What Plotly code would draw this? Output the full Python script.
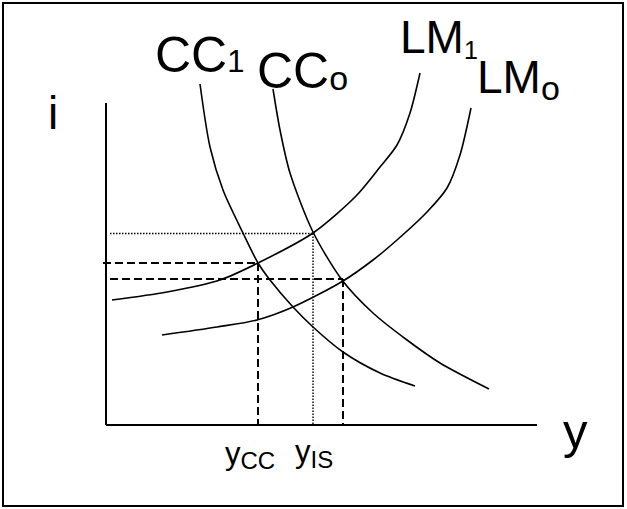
import plotly.graph_objects as go

# ---- data (income y on x axis, interest rate i on y axis; arbitrary units) ----
cc1_y = [94, 104, 117, 137, 152, 164, 187, 207, 237, 274, 309]
cc1_i = [341, 278, 235, 192, 162, 145, 118, 98, 73, 52, 39]

cc0_y = [167, 174, 184, 207, 236, 267, 301, 334, 383]
cc0_i = [336, 295, 252, 193, 145, 112, 85, 62, 36]

lm1_y = [6, 61, 114, 152, 207, 250, 274, 291, 304, 314]
lm1_i = [125, 133, 145, 162, 192, 229, 258, 280, 312, 352]

lm0_y = [56, 111, 151, 187, 237, 267, 291, 321, 341, 354, 365]
lm0_i = [90, 98, 105, 118, 144, 165, 185, 213, 237, 270, 317]

# equilibrium points: CCo x LM1 (dotted), CC1 x LM1 (dashed), CCo x LMo (dashed)
eq_y = [207, 152, 237]
eq_i = [191.5, 162, 146]
eq_style = ["dot", "dash", "dash"]

axis_y_max = 431
axis_i_max = 322

# ---- geometry helpers (pixel -> data) ----
W, H = 627, 509
OX, OY = 106, 425


def X(px):
    return px - OX


def Y(py):
    return OY - py


FONT = "Liberation Sans, Arial, Helvetica, sans-serif"

fig = go.Figure()

line_style = dict(color="black", width=1.6, shape="spline", smoothing=0.8)
for xs, ys in [(cc1_y, cc1_i), (cc0_y, cc0_i), (lm1_y, lm1_i), (lm0_y, lm0_i)]:
    fig.add_trace(go.Scatter(x=xs, y=ys, mode="lines", line=line_style,
                             hoverinfo="skip", showlegend=False))

shapes = []
# border
shapes.append(dict(type="rect", xref="x", yref="y", x0=X(3), x1=X(623), y0=Y(3), y1=Y(506),
                   line=dict(color="black", width=2)))
# axes
shapes.append(dict(type="line", xref="x", yref="y", x0=0, x1=0, y0=0, y1=axis_i_max,
                   line=dict(color="black", width=2)))
shapes.append(dict(type="line", xref="x", yref="y", x0=0, x1=axis_y_max, y0=0, y1=0,
                   line=dict(color="black", width=2)))
# guide lines
h_start = [X(110), X(103), X(110)]
for yy, ii, st, hs in zip(eq_y, eq_i, eq_style, h_start):
    if st == "dot":
        ln = dict(color="black", width=1.4, dash="1.5px,1.5px")
    else:
        ln = dict(color="black", width=2, dash="8px,4px")
    shapes.append(dict(type="line", xref="x", yref="y", x0=hs, x1=yy, y0=ii, y1=ii, line=ln))
    shapes.append(dict(type="line", xref="x", yref="y", x0=yy, x1=yy, y0=ii, y1=1, line=ln))

annotations = []


def txt(s, px, pycenter, size, anchor="left"):
    annotations.append(dict(text=s, x=X(px), y=Y(pycenter), xref="x", yref="y",
                            xanchor=anchor, yanchor="middle", showarrow=False,
                            borderpad=0, borderwidth=0,
                            font=dict(family=FONT, size=size, color="black")))


def sub(main, small, small_size, shift):
    return (main + "<span style='font-size:%dpx;baseline-shift:-%spx'>%s</span>"
            % (small_size, shift, small))


# axis labels
txt("i", 53, 113, 46, anchor="center")
txt("y", 575, 431, 49, anchor="center")
# curve labels
txt(sub("CC", "1", 31, 0), 154.5, 54.7, 50)
txt(sub("CC", "o", 34, 1.5), 256.5, 70.7, 50)
txt(sub("LM", "1", 25, 6), 399.6, 37.1, 46)
txt(sub("LM", "o", 34, 7), 476.6, 79.1, 46)
# tick labels
txt(sub("y", "CC", 24, 5), 224.7, 455.3, 31)
txt(sub("y", "IS", 24, 6), 294.7, 453.8, 31)

fig.update_layout(
    width=W, height=H,
    margin=dict(l=0, r=0, t=0, b=0),
    paper_bgcolor="white", plot_bgcolor="white",
    xaxis=dict(range=[X(0), X(W)], visible=False, fixedrange=True),
    yaxis=dict(range=[Y(H), Y(0)], visible=False, fixedrange=True),
    shapes=shapes, annotations=annotations,
    showlegend=False,
)

fig.write_html(
    "out.html",
    config={"displayModeBar": False},
    post_script="document.body.style.margin='0';document.body.style.overflow='hidden';",
)
